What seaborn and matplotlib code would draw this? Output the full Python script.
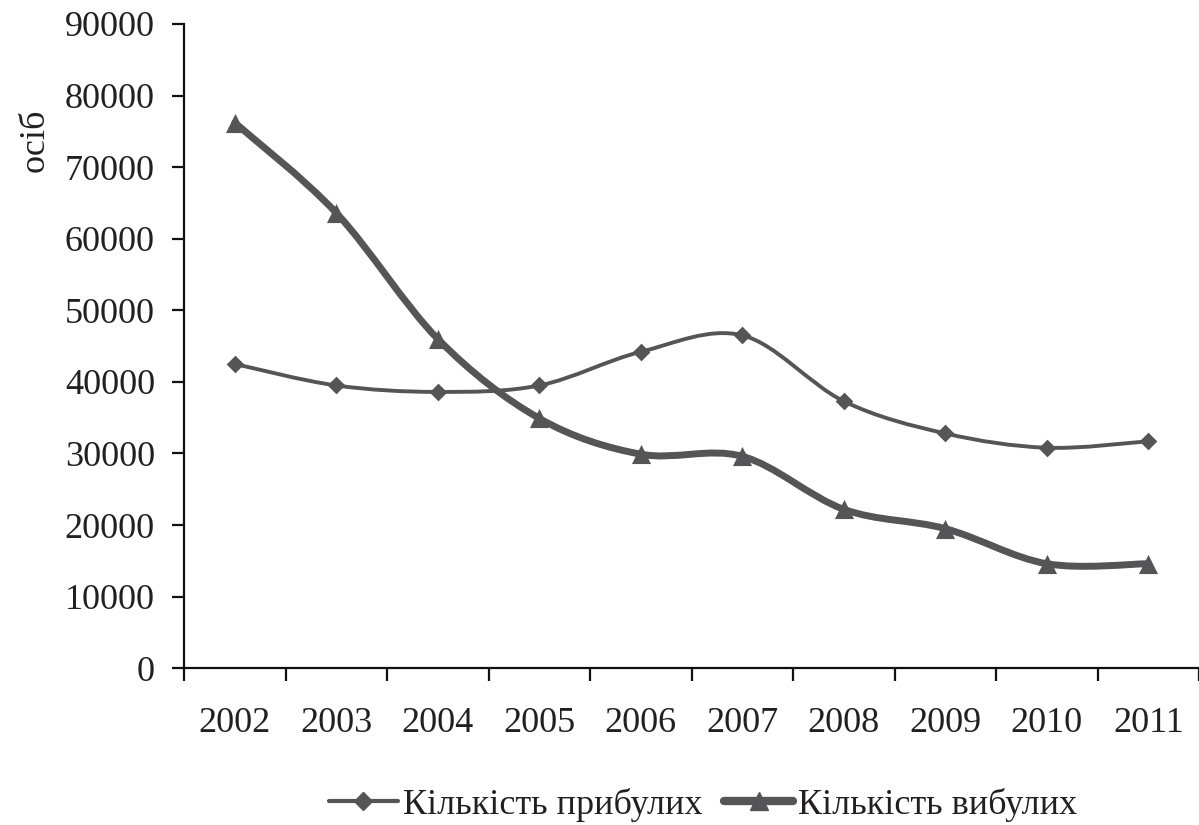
import numpy as np
import pandas as pd
import matplotlib
matplotlib.use("Agg")
import matplotlib.pyplot as plt
import seaborn as sns
from matplotlib.path import Path
from matplotlib.patches import PathPatch
from matplotlib.lines import Line2D
from matplotlib.ticker import FixedLocator

years = ['2002', '2003', '2004', '2005', '2006', '2007', '2008', '2009', '2010', '2011']
arrived = [42500, 39500, 38600, 39500, 44200, 46500, 37300, 32800, 30800, 31700]
departed = [76200, 63600, 46000, 34900, 29900, 29600, 22200, 19500, 14600, 14600]
label_arrived = 'Кількість прибулих'
label_departed = 'Кількість вибулих'

sns.set_style('white')
plt.rcParams['font.family'] = ['Liberation Serif', 'DejaVu Serif']
txt = '#231f20'
col = '#555557'

df = pd.DataFrame({'x': np.arange(len(years)), 'arr': arrived, 'dep': departed})


def smooth_path(xs, ys):
    # excel-like smoothed line: bezier segments with catmull-rom control points
    pts = np.column_stack([xs, ys]).astype(float)
    n = len(pts)
    verts = [pts[0]]
    codes = [Path.MOVETO]
    for i in range(n - 1):
        p0 = pts[i - 1] if i > 0 else pts[i]
        p1, p2 = pts[i], pts[i + 1]
        p3 = pts[i + 2] if i + 2 < n else pts[i + 1]
        c1 = p1 + (p2 - p0) / 6.0
        c2 = p2 - (p3 - p1) / 6.0
        verts += [c1, c2, p2]
        codes += [Path.CURVE4] * 3
    return Path(verts, codes)


fig = plt.figure(figsize=(11.99, 8.25), dpi=100)
ax = fig.add_axes([0.1535, 0.19, 0.8465, 0.781])

ax.add_patch(PathPatch(smooth_path(df['x'], df['arr']), fill=False, edgecolor=col, lw=2.8, capstyle='round'))
ax.add_patch(PathPatch(smooth_path(df['x'], df['dep']), fill=False, edgecolor=col, lw=5, capstyle='round', joinstyle='round'))
sns.scatterplot(data=df, x='x', y='arr', marker='D', s=81, color=col, edgecolor=col, linewidth=0, ax=ax, zorder=3)
sns.scatterplot(data=df, x='x', y='dep', marker='^', s=190, color=col, edgecolor=col, linewidth=0, ax=ax, zorder=3)

ax.set_xlim(-0.5, len(years) - 0.5)
ax.set_ylim(0, 90000)
ax.set_yticks(np.arange(0, 90001, 10000))
ax.set_yticklabels([str(v) for v in range(0, 90001, 10000)])
ax.set_xticks(df['x'])
ax.set_xticklabels(years)
ax.xaxis.set_minor_locator(FixedLocator(np.arange(-0.5, len(years), 1.0)))
ax.set_xlabel('')
ax.set_ylabel('')

for s in ['top', 'right']:
    ax.spines[s].set_visible(False)
for s in ['left', 'bottom']:
    ax.spines[s].set_color('#111111')
    ax.spines[s].set_linewidth(1.6)

ax.tick_params(axis='y', which='major', direction='out', length=9, width=1.6, color='#111111',
               labelsize=26, labelcolor=txt, pad=12, left=True)
ax.tick_params(axis='x', which='major', length=0, labelsize=26, labelcolor=txt, pad=28)
ax.tick_params(axis='x', which='minor', direction='out', length=9, width=1.6, color='#111111', bottom=True)

fig.text(35 / 1199, 1 - 140 / 825, 'осіб', rotation=90, fontsize=26, color=txt, ha='center', va='center')

handles = [Line2D([], [], color=col, lw=3, marker='D', markersize=9),
           Line2D([], [], color=col, lw=6, marker='^', markersize=13)]
fig.legend(handles, [label_arrived, label_departed], loc='center', bbox_to_anchor=(0.5865, 1 - 805 / 825),
           ncol=2, frameon=False, fontsize=26, handlelength=1.9, handletextpad=0.15, columnspacing=0.6,
           labelcolor=txt)

fig.savefig('out.png', dpi=100)
